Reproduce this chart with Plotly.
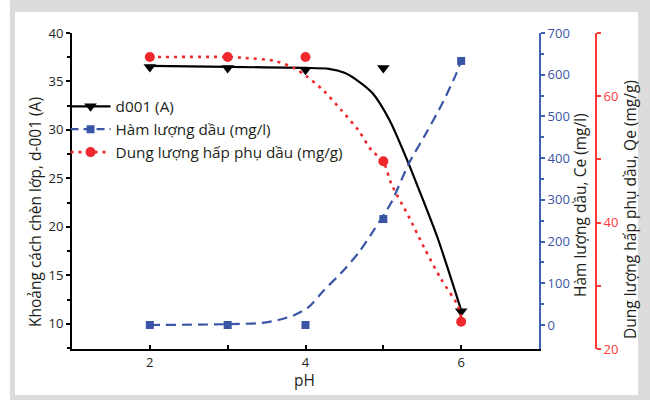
import plotly.graph_objects as go

# ---- data ----
ph = [2, 3, 4, 5, 6]
d001 = [36.5, 36.4, 36.2, 36.4, 11.3]            # left axis (A)
ce = [0, 0, 0, 254, 633]                          # blue axis (mg/l)
qe = [66.2, 66.2, 66.2, 49.7, 24.3]               # red axis (mg/g)

# fitted curves, points
d001_fit_x = [2, 3, 4, 4.3, 4.5, 4.65, 4.86, 5.08, 5.29, 5.46, 5.7, 6]
d001_fit_y = [36.6, 36.5, 36.4, 36.3, 35.9, 35.2, 33.8, 31.0, 27.2, 23.8, 18.8, 11.4]

ce_fit_x = [2, 3, 3.44, 3.65, 3.86, 4.04, 4.24, 4.46, 4.68, 4.88, 5.1, 5.33, 5.55, 5.76, 5.94, 6]
ce_fit_y = [0, 2, 5, 12, 24, 43, 84, 125, 173, 228, 293, 388, 460, 532, 604, 635]

qe_fit_x = [2, 3, 3.17, 3.6, 3.86, 4.01, 4.24, 4.46, 4.68, 4.85, 5.0, 5.1, 5.32, 5.53, 5.74, 5.96, 6]
qe_fit_y = [66.2, 66.2, 66.1, 65.6, 64.4, 63.2, 60.8, 57.8, 54.6, 51.4, 49.7, 46.2, 41.1, 35.9, 31.1, 26.8, 24.8]

names = ["d001 (A)", "Hàm lượng dầu (mg/l)", "Dung lượng hấp phụ dầu (mg/g)"]
titles = ["Khoảng cách chèn lớp, d-001 (A)", "Hàm lượng dầu, Ce (mg/l)", "Dung lượng hấp phụ dầu, Qe (mg/g)"]

BLACK = "#000000"
TXT = "#231f20"
BLUE = "#3b55a6"
BLUE_AX = "#3f62b4"
RED = "#f0282c"
RED_AX = "#ff3838"
FONT = "Open Sans"

fig = go.Figure()

# fit lines
fig.add_trace(go.Scatter(x=d001_fit_x, y=d001_fit_y, mode="lines",
                         line=dict(color=BLACK, width=2.2, shape="spline", smoothing=0.7),
                         showlegend=False, yaxis="y"))
fig.add_trace(go.Scatter(x=ce_fit_x, y=ce_fit_y, mode="lines",
                         line=dict(color=BLUE, width=2.2, dash="10px,6px", shape="spline", smoothing=0.7),
                         showlegend=False, yaxis="y2"))
fig.add_trace(go.Scatter(x=qe_fit_x, y=qe_fit_y, mode="lines",
                         line=dict(color=RED, width=2.6, dash="3px,5px", shape="spline", smoothing=0.7),
                         showlegend=False, yaxis="y3"))

# data markers
fig.add_trace(go.Scatter(x=ph, y=d001, mode="markers", marker=dict(symbol="triangle-down", size=11, color=BLACK),
                         showlegend=False, yaxis="y"))
fig.add_trace(go.Scatter(x=ph, y=ce, mode="markers", marker=dict(symbol="square", size=8, color=BLUE),
                         showlegend=False, yaxis="y2"))
fig.add_trace(go.Scatter(x=ph, y=qe, mode="markers", marker=dict(symbol="circle", size=10, color=RED),
                         showlegend=False, yaxis="y3"))

# legend entries
fig.add_trace(go.Scatter(x=[None], y=[None], mode="lines+markers", name=names[0],
                         line=dict(color=BLACK, width=2.2), marker=dict(symbol="triangle-down", size=11, color=BLACK)))
fig.add_trace(go.Scatter(x=[None], y=[None], mode="lines+markers", name=names[1],
                         line=dict(color=BLUE, width=2.2, dash="8px,5px"), marker=dict(symbol="square", size=8, color=BLUE), yaxis="y2"))
fig.add_trace(go.Scatter(x=[None], y=[None], mode="lines+markers", name=names[2],
                         line=dict(color=RED, width=2.6, dash="3px,5px"), marker=dict(symbol="circle", size=10, color=RED), yaxis="y3"))

# frame geometry helpers (paper coords of plot area 72..610 x, 33..349 y)
L, R, T, B = 72, 610, 33, 349
def px(xp):
    return (xp - L) / (R - L)
def py(yp):
    return (B - yp) / (B - T)

shapes = [
    dict(type="rect", xref="paper", yref="paper", x0=px(10), x1=px(652), y0=py(402), y1=py(-2),
         fillcolor="#dcdcdc", line=dict(width=0), layer="below"),
    dict(type="rect", xref="paper", yref="paper", x0=px(15), x1=px(638), y0=py(395), y1=py(12),
         fillcolor="#ffffff", line=dict(width=0), layer="below"),
]

title_font = dict(family=FONT, size=15.5, color=TXT)
annotations = [
    dict(text=titles[0], xref="paper", yref="paper", x=px(35), y=py(212), textangle=-90,
         showarrow=False, xanchor="center", yanchor="middle", font=title_font),
    dict(text=titles[1], xref="paper", yref="paper", x=px(580), y=py(205), textangle=-90,
         showarrow=False, xanchor="center", yanchor="middle", font=title_font),
    dict(text=titles[2], xref="paper", yref="paper", x=px(630), y=py(210), textangle=-90,
         showarrow=False, xanchor="center", yanchor="middle", font=title_font),
    dict(text="pH", xref="paper", yref="paper", x=px(304), y=py(380),
         showarrow=False, xanchor="center", yanchor="middle", font=title_font),
]

tickfont = dict(family=FONT, size=13, color=TXT)

fig.update_layout(
    width=650, height=400,
    margin=dict(l=L, r=650 - R, t=T, b=400 - B),
    paper_bgcolor="#ffffff", plot_bgcolor="rgba(0,0,0,0)",
    font=dict(family=FONT, color=TXT),
    shapes=shapes,
    annotations=annotations,
    showlegend=True,
    legend=dict(x=-0.012, y=0.82, xanchor="left", yanchor="top", bgcolor="rgba(0,0,0,0)",
                font=dict(family=FONT, size=15.3, color=TXT), tracegroupgap=0, itemwidth=40),
    xaxis=dict(domain=[0, px(539)], range=[1, 7], tickvals=[2, 4, 6], ticks="inside", ticklen=4, tickwidth=1.5,
               tickcolor=BLACK, minor=dict(tickvals=[1, 3, 5, 7], ticks="inside", ticklen=4, tickwidth=1.5, tickcolor=BLACK),
               showline=True, linecolor=BLACK, linewidth=2, showgrid=False, zeroline=False, tickfont=tickfont),
    yaxis=dict(range=[7.4, 40], tickvals=[10, 15, 20, 25, 30, 35, 40], ticks="outside", ticklen=4, tickwidth=1.5,
               tickcolor=BLACK, minor=dict(tickvals=[7.5, 12.5, 17.5, 22.5, 27.5, 32.5, 37.5], ticks="outside", ticklen=3,
                                           tickwidth=1.5, tickcolor=BLACK),
               showline=True, linecolor=BLACK, linewidth=2, showgrid=False, zeroline=False, tickfont=tickfont),
    yaxis2=dict(overlaying="y", side="right", anchor="x", range=[-57.5, 700], tickvals=list(range(0, 701, 100)),
                ticks="outside", ticklen=4, tickwidth=1.5, tickcolor=BLUE_AX,
                minor=dict(tickvals=list(range(50, 700, 100)), ticks="outside", ticklen=3, tickwidth=1.5, tickcolor=BLUE_AX),
                showline=True, linecolor=BLUE_AX, linewidth=2, showgrid=False, zeroline=False,
                tickfont=dict(family=FONT, size=13, color=BLUE)),
    yaxis3=dict(overlaying="y", side="right", anchor="free", position=px(596), range=[20, 70], tickvals=[20, 40, 60],
                ticks="outside", ticklen=4, tickwidth=1.5, tickcolor=RED_AX,
                minor=dict(tickvals=[30, 50, 70], ticks="outside", ticklen=4, tickwidth=1.5, tickcolor=RED_AX),
                showline=True, linecolor=RED_AX, linewidth=2, showgrid=False, zeroline=False,
                tickfont=dict(family=FONT, size=13, color=RED_AX)),
)

fig.write_html("out.html")
